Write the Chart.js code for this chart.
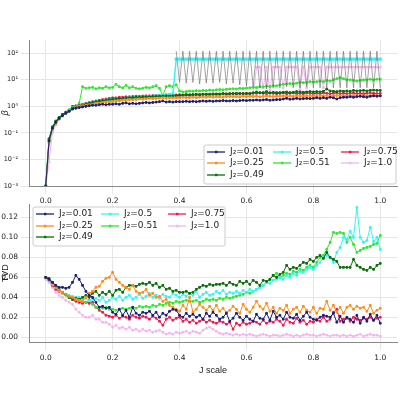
<!DOCTYPE html>
<html><head><meta charset="utf-8">
<script src="https://cdn.jsdelivr.net/npm/chart.js@4"></script>
<style>body{margin:0;background:#fff}#a{position:absolute;left:0;top:0;width:400px;height:209px}#b{position:absolute;left:0;top:197px;width:400px;height:203px}</style>
</head><body><div id="b"><canvas id="c2"></canvas></div><div id="a"><canvas id="c1"></canvas></div>
<script>
const xs=[0,0.01,0.02,0.03,0.04,0.05,0.06,0.07,0.08,0.09,0.1,0.11,0.12,0.13,0.14,0.15,0.16,0.17,0.18,0.19,0.2,0.21,0.22,0.23,0.24,0.25,0.26,0.27,0.28,0.29,0.3,0.31,0.32,0.33,0.34,0.35,0.36,0.37,0.38,0.39,0.4,0.41,0.42,0.43,0.44,0.45,0.46,0.47,0.48,0.49,0.5,0.51,0.52,0.53,0.54,0.55,0.56,0.57,0.58,0.59,0.6,0.61,0.62,0.63,0.64,0.65,0.66,0.67,0.68,0.69,0.7,0.71,0.72,0.73,0.74,0.75,0.76,0.77,0.78,0.79,0.8,0.81,0.82,0.83,0.84,0.85,0.86,0.87,0.88,0.89,0.9,0.91,0.92,0.93,0.94,0.95,0.96,0.97,0.98,0.99,1.0];
const labels=["J₂=0.01","J₂=0.25","J₂=0.49","J₂=0.5","J₂=0.51","J₂=0.75","J₂=1.0"];
const colors=["#1a1f7a","#ff8c1a","#0a6e0a","#33f5f5","#2ee82e","#f0184a","#f5b5ee"];
// beta (top)
const b01=[.001,.05,.15,.25,.35,.45,.55,.65,.8,.85,.9,.95,1.0,1.05,1.1,1.1,1.15,1.2,1.15,1.2,1.2,1.25,1.2,1.3,1.35,1.25,1.3,1.25,1.3,1.35,1.4,1.35,1.4,1.45,1.5,1.6,1.45,1.5,1.45,1.5,1.5,1.5,1.55,1.5,1.55,1.5,1.55,1.6,1.55,1.6,1.55,1.6,1.6,1.65,1.6,1.6,1.65,1.6,1.65,1.7,1.65,1.7,1.7,1.75,1.7,1.75,1.8,1.7,1.75,1.8,1.8,1.9,2.0,1.85,1.9,2.0,1.9,1.95,2.0,1.95,2.0,2.1,2.0,2.1,2.0,2.2,2.1,1.9,2.1,2.2,2.2,2.3,2.2,2.3,2.4,2.3,2.2,2.4,2.5,2.4,2.5];
const b25=[.001,.04,.14,.22,.33,.45,.55,.7,.8,.9,1.0,1.05,1.1,1.15,1.2,1.3,1.3,1.4,1.45,1.5,1.5,1.6,1.6,1.7,1.7,1.8,1.75,1.8,1.9,1.85,1.9,2.0,1.95,2.0,2.05,2.1,2.0,2.1,2.05,2.1,2.1,2.2,2.1,2.15,2.2,2.1,2.2,2.25,2.2,2.3,2.2,2.3,2.25,2.2,2.3,2.35,2.3,2.3,2.25,2.4,2.3,2.4,2.35,2.4,2.3,2.4,2.45,2.4,2.35,2.4,2.4,2.5,2.4,2.45,2.4,2.5,2.45,2.4,2.5,2.45,2.5,2.4,2.5,2.45,2.5,2.4,2.5,2.55,2.5,2.45,2.5,2.5,2.55,2.5,2.45,2.5,2.55,2.5,2.5,2.55,2.5];
const b49=[.001,.06,.17,.28,.38,.5,.6,.7,.85,.95,1.05,1.1,1.2,1.3,1.4,1.5,1.6,1.65,1.7,1.8,1.85,1.9,2.0,2.0,2.1,2.1,2.15,2.2,2.2,2.25,2.3,2.3,2.35,2.4,2.4,2.45,2.5,2.45,2.5,2.5,2.6,2.6,2.7,2.65,2.7,2.8,2.7,2.8,2.85,2.8,2.9,2.85,2.9,3.0,2.95,3.0,3.05,3.0,3.1,3.0,3.1,3.0,3.2,3.5,3.2,3.3,3.6,3.2,3.4,3.3,3.3,3.4,3.5,3.3,3.4,3.6,3.5,3.4,3.5,3.6,3.5,3.6,3.5,3.7,4.5,3.8,3.7,3.6,3.8,3.7,3.8,3.7,4.0,3.8,3.9,4.0,3.8,4.0,4.1,4.0,4.0];
const b50=[.001,.05,.13,.25,.36,.45,.55,.7,.8,.9,1.0,1.1,1.2,1.3,1.4,1.5,1.55,1.6,1.7,1.75,1.8,1.85,1.9,1.95,2.0,2.05,2.1,2.15,2.2,2.2,2.3,2.3,2.4,2.5,2.5,2.6,2.7,2.8,2.9,60,60,60,60,60,60,60,60,60,60,60,60,60,60,60,60,60,60,60,60,60,60,60,60,60,60,60,60,60,60,60,60,60,60,60,60,60,60,60,60,60,60,60,60,60,60,60,60,60,60,60,60,60,60,60,60,60,60,60,60,60,60];
const b51=[.001,.06,.16,.27,.38,.5,.6,.75,.9,1.0,1.3,5.5,4.8,5.0,5.2,4.6,5.0,4.8,5.5,5.0,5.2,6.8,5.5,5.0,6.2,5.0,5.5,4.8,4.6,4.8,5.2,5.0,5.5,6.0,4.8,2.5,5.5,6.0,5.5,6.5,3.8,3.5,3.6,3.8,3.7,3.9,3.8,4.0,3.9,4.1,4.0,4.2,4.3,4.2,4.4,4.5,4.6,4.5,4.8,4.7,4.9,5.0,5.2,5.1,5.5,5.4,5.8,5.6,6.0,5.9,6.5,6.8,7.0,7.2,7.0,7.5,8.0,7.8,8.0,8.5,8.2,8.5,9.0,8.5,9.5,9.0,10,11,12,11,10,10,9.5,9.0,9.5,10,10,10.5,10,10.5,10.5];
const b75=[.001,.05,.15,.26,.36,.48,.6,.72,1.0,1.05,1.1,1.2,1.3,1.4,1.5,1.6,1.7,1.8,1.9,2.0,2.1,2.1,2.2,2.2,2.3,2.3,2.35,2.4,2.4,2.45,2.5,2.5,2.55,2.6,2.6,2.6,2.65,2.7,2.7,2.7,2.75,2.7,2.8,2.75,2.8,2.85,2.8,2.9,2.85,2.9,2.9,2.95,2.9,3.0,2.95,3.0,3.0,3.1,3.0,3.05,3.0,3.1,3.2,3.1,3.3,3.1,3.0,3.2,3.1,3.0,3.1,3.2,3.0,3.1,3.2,3.0,3.1,3.0,3.2,3.1,3.0,3.1,3.0,3.2,3.1,3.0,3.1,3.2,3.0,3.1,3.0,3.1,3.2,3.0,3.1,3.0,3.1,3.2,3.1,3.0,3.1];
const b100=[.001,.008,.1,.2,.33,.5,.6,.7,.85,.95,1.0,1.1,1.2,1.3,1.4,1.5,1.5,1.6,1.65,1.7,1.75,1.8,1.85,1.9,1.9,1.95,2.0,2.0,2.05,2.1,2.1,2.1,2.15,2.2,2.2,2.25,2.2,2.3,2.25,2.3,2.3,2.35,2.3,2.4,2.35,2.4,2.4,2.45,2.4,2.45,2.5,2.45,2.5,2.5,2.55,2.5,2.55,2.6,2.55,2.6,2.6,2.65,2.6,30,30,5,30,4,30,30,30,5,30,30,30,30,4,30,5,30,30,30,30,5,30,30,30,30,30,30,30,30,30,30,30,30,30,30,30,30,30];
const bGray=[null,null,null,null,null,null,null,null,null,null,null,null,null,null,null,null,null,null,null,null,null,null,null,null,null,null,null,null,null,null,null,null,null,null,null,null,null,null,null,120,8,120,7.5,120,8,120,7,120,7.5,120,7.5,120,8,120,7,120,7.5,120,6.5,120,6,120,5.5,120,5,120,4.5,120,5,120,5,120,5.5,120,5,120,5,120,5.5,120,5,120,5,120,5,120,5,120,5,120,5,120,5,120,5,120,5,120,5,120,5];
// TVD (bottom)
const t01=[.060,.058,.055,.052,.050,.050,.049,.050,.055,.062,.058,.052,.046,.042,.040,.035,.030,.031,.029,.030,.025,.023,.028,.022,.027,.020,.030,.024,.022,.025,.024,.026,.022,.025,.020,.024,.022,.026,.028,.027,.022,.020,.024,.021,.023,.020,.022,.018,.024,.021,.025,.022,.018,.020,.024,.016,.019,.024,.020,.017,.021,.018,.016,.023,.019,.018,.024,.017,.026,.020,.022,.018,.025,.020,.019,.023,.017,.021,.025,.020,.018,.017,.020,.022,.021,.020,.024,.015,.021,.015,.020,.018,.015,.022,.014,.020,.016,.023,.017,.022,.014];
const t25=[.060,.057,.054,.050,.048,.045,.043,.041,.040,.038,.037,.036,.040,.044,.046,.050,.051,.056,.059,.060,.065,.058,.055,.052,.050,.048,.052,.046,.044,.045,.048,.042,.044,.040,.041,.036,.038,.032,.030,.028,.026,.032,.028,.040,.025,.028,.033,.030,.027,.031,.027,.032,.026,.029,.025,.027,.031,.028,.024,.033,.028,.025,.030,.036,.031,.028,.034,.026,.030,.024,.029,.027,.032,.024,.028,.030,.025,.031,.027,.025,.030,.024,.029,.028,.036,.027,.032,.025,.030,.024,.030,.032,.028,.031,.029,.030,.026,.032,.024,.027,.029];
const t49=[.060,.059,.055,.051,.048,.045,.043,.040,.038,.039,.038,.040,.042,.040,.044,.046,.042,.045,.043,.046,.042,.047,.048,.045,.050,.052,.052,.051,.053,.054,.053,.055,.052,.054,.050,.052,.048,.049,.046,.047,.045,.045,.046,.044,.045,.048,.050,.052,.051,.053,.052,.053,.053,.054,.052,.055,.053,.052,.056,.054,.056,.053,.057,.055,.052,.057,.056,.058,.062,.060,.063,.065,.072,.068,.070,.069,.072,.075,.074,.078,.076,.080,.082,.079,.085,.080,.078,.076,.070,.070,.070,.070,.078,.072,.070,.068,.067,.070,.068,.072,.074];
const t50=[.060,.057,.053,.050,.047,.045,.043,.042,.041,.040,.040,.038,.039,.037,.038,.039,.037,.040,.035,.037,.040,.038,.041,.037,.040,.042,.038,.040,.043,.039,.041,.044,.040,.042,.039,.043,.041,.040,.044,.042,.040,.043,.041,.044,.042,.046,.040,.043,.045,.042,.043,.046,.044,.047,.043,.045,.044,.046,.044,.047,.045,.048,.046,.048,.050,.052,.055,.054,.057,.058,.060,.058,.062,.060,.064,.062,.066,.065,.068,.070,.068,.072,.075,.080,.082,.080,.075,.085,.090,.100,.098,.106,.100,.130,.100,.095,.097,.110,.096,.100,.088];
const t51=[.060,.058,.054,.050,.047,.044,.042,.040,.039,.038,.037,.036,.035,.037,.033,.030,.030,.029,.030,.028,.028,.027,.028,.029,.028,.029,.030,.029,.031,.030,.031,.030,.032,.031,.033,.032,.034,.035,.034,.036,.035,.036,.037,.036,.036,.037,.035,.036,.038,.037,.038,.037,.039,.038,.040,.039,.040,.041,.042,.043,.045,.044,.046,.048,.050,.052,.055,.058,.062,.064,.060,.062,.064,.063,.066,.065,.068,.067,.070,.072,.070,.075,.080,.082,.088,.095,.105,.104,.105,.104,.095,.100,.093,.085,.087,.089,.090,.091,.093,.094,.102];
const t75=[.060,.057,.052,.048,.046,.045,.043,.040,.038,.036,.035,.034,.035,.034,.035,.030,.027,.025,.022,.021,.020,.022,.019,.021,.020,.018,.022,.020,.019,.021,.020,.018,.021,.019,.016,.012,.018,.020,.017,.019,.020,.016,.018,.015,.017,.014,.016,.018,.015,.017,.015,.014,.016,.015,.013,.015,.008,.014,.012,.015,.013,.014,.016,.015,.013,.017,.014,.016,.015,.018,.016,.012,.018,.015,.014,.019,.015,.017,.013,.016,.015,.018,.016,.020,.016,.018,.025,.028,.016,.018,.019,.016,.020,.018,.017,.019,.018,.020,.017,.019,.020];
const t100=[.058,.055,.050,.045,.042,.040,.037,.035,.033,.028,.025,.022,.020,.020,.022,.018,.018,.015,.015,.013,.010,.012,.009,.010,.008,.010,.007,.008,.006,.008,.006,.007,.005,.006,.007,.005,.003,.004,.003,.005,.004,.005,.006,.004,.006,.005,.004,.007,.009,.010,.008,.006,.004,.003,.004,.003,.002,.003,.002,.003,.002,.003,.002,.001,.002,.003,.002,.001,.002,.002,.001,.002,.003,.002,.001,.002,.001,.002,.003,.002,.002,.001,.002,.003,.002,.001,.002,.002,.001,.002,.001,.002,.001,.002,.003,.001,.002,.003,.002,.002,.001];
const xTicks=[0,0.2,0.4,0.6,0.8,1.0];
const logTicks=[0.001,0.01,0.1,1,10,100];
const logLabels=["10⁻³","10⁻²","10⁻¹","10⁰","10¹","10²"];
const tvdTicks=[0,0.02,0.04,0.06,0.08,0.10,0.12];

function mk(arr,c,lab,extra){return Object.assign({label:lab,data:xs.map((x,i)=>({x,y:arr[i]})),borderColor:c,backgroundColor:c,borderWidth:1,pointRadius:1.2,pointHoverRadius:0,pointStyle:'rect',tension:0,spanGaps:false},extra||{});}
const topSets=[b01,b25,b49,b50,b51,b75,b100];
const botSets=[t01,t25,t49,t50,t51,t75,t100];
const colOf=[0,0,0,1,1,2,2], rowOf=[0,1,2,0,1,0,1];

const legendPlugin={id:'lg',afterDatasetsDraw(ch,a,o){
  const ctx=ch.ctx;const {box,cols,rows}=o;
  ctx.save();ctx.fillStyle='rgba(255,255,255,0.85)';ctx.strokeStyle='#ccc';ctx.lineWidth=1;
  ctx.beginPath();ctx.roundRect(box[0],box[1],box[2],box[3],2);ctx.fill();ctx.stroke();
  ctx.font='9px "DejaVu Sans"';ctx.textBaseline='middle';
  for(let i=0;i<labels.length;i++){const x=cols[colOf[i]],y=rows[rowOf[i]];
    ctx.strokeStyle=colors[i];ctx.lineWidth=1.3;ctx.beginPath();ctx.moveTo(x,y);ctx.lineTo(x+18,y);ctx.stroke();
    ctx.fillStyle=colors[i];ctx.fillRect(x+8,y-1.2,2.4,2.4);
    ctx.fillStyle='#222';ctx.fillText(labels[i],x+23,y);}
  ctx.restore();}};

const gridC='#e6e6e6', tickF={size:7.5,family:'DejaVu Sans'};
function yFit(s){s.width=29;}
new Chart(document.getElementById('c1'),{type:'line',
 data:{datasets:[mk(bGray,'#666','',{pointRadius:0,borderWidth:0.6})].concat(topSets.map((a,i)=>mk(a,colors[i],labels[i],i==3?{borderWidth:1.5}:{})))},
 options:{animation:false,responsive:true,maintainAspectRatio:false,layout:{padding:{top:40,right:3,bottom:0}},
  plugins:{legend:{display:false},tooltip:{enabled:false},lg:{box:[204,145,192,39],cols:[207,273,341],rows:[152,163,175]}},
  scales:{x:{type:'linear',min:-0.05,max:1.05,afterBuildTicks:s=>{s.ticks=xTicks.map(v=>({value:v}))},ticks:{font:tickF,color:'#222',maxRotation:0,callback:v=>v.toFixed(1)},grid:{color:gridC},border:{color:'#888'}},
   y:{type:'logarithmic',min:0.001,max:316,afterFit:yFit,afterBuildTicks:s=>{s.ticks=logTicks.map(v=>({value:v}))},ticks:{font:{size:6.5,family:'DejaVu Sans'},color:'#222',callback:(v)=>logLabels[logTicks.findIndex(t=>Math.abs(t-v)/t<1e-6)]||''},grid:{color:gridC},border:{color:'#888'},title:{display:true,text:'β',font:{size:9,style:'italic'},color:'#222',padding:0}}}},
 plugins:[legendPlugin]});
new Chart(document.getElementById('c2'),{type:'line',
 data:{datasets:botSets.map((a,i)=>mk(a,colors[i],labels[i]))},
 options:{animation:false,responsive:true,maintainAspectRatio:false,layout:{padding:{top:7,right:3,bottom:24}},
  plugins:{legend:{display:false},tooltip:{enabled:false},lg:{box:[33,10,192,39],cols:[36,101,168],rows:[17,29,40]}},
  scales:{x:{type:'linear',min:-0.05,max:1.05,afterBuildTicks:s=>{s.ticks=xTicks.map(v=>({value:v}))},ticks:{font:tickF,color:'#222',maxRotation:0,callback:v=>v.toFixed(1)},grid:{color:gridC},border:{color:'#888'},title:{display:true,text:'J scale',font:{size:9},color:'#222',padding:0}},
   y:{min:-0.005,max:0.133,afterFit:yFit,afterBuildTicks:s=>{s.ticks=tvdTicks.map(v=>({value:v}))},ticks:{font:tickF,color:'#222',callback:v=>v.toFixed(2)},grid:{color:gridC},border:{color:'#888'},title:{display:true,text:'TVD',font:{size:9},color:'#222',padding:0}}}},
 plugins:[legendPlugin]});
</script></body></html>
